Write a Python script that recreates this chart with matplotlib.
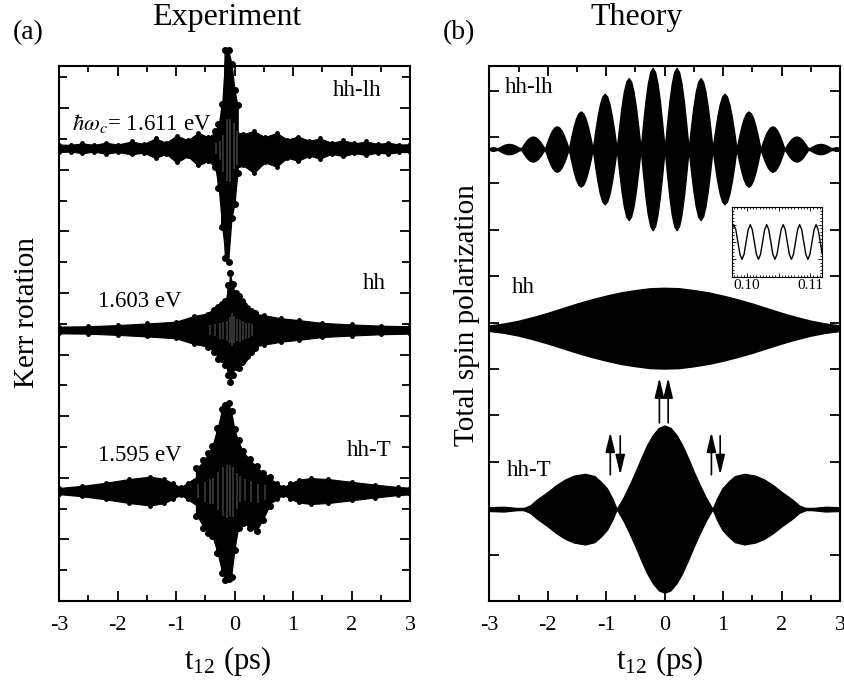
import numpy as np
import matplotlib
matplotlib.use('Agg')
import matplotlib.pyplot as plt
from matplotlib.ticker import MultipleLocator, NullFormatter

plt.rcParams['font.family'] = ['Liberation Serif', 'DejaVu Serif']
plt.rcParams['mathtext.fontset'] = 'stix'

# ---------------- experiment (left), y in tick units ----------------
exp_base = {'hh-lh': 14.7, 'hh': 8.8, 'hh-T': 3.57}

# dense band (half widths above / below baseline)
hhlh_t = [-3.0, -2.8, -2.6, -2.4, -2.2, -2.0, -1.76, -1.55, -1.35, -1.17, -0.99, -0.8, -0.62, -0.45, -0.3,
          0.0, 0.15, 0.33, 0.52, 0.72, 0.9, 1.09, 1.28, 1.46, 1.66, 1.86, 2.05, 2.25, 2.45, 2.63, 2.82, 3.0]
hhlh_up = [0.12, 0.11, 0.16, 0.11, 0.18, 0.12, 0.22, 0.14, 0.32, 0.18, 0.41, 0.26, 0.5, 0.36, 0.55,
           0.55, 0.46, 0.56, 0.36, 0.5, 0.28, 0.38, 0.24, 0.32, 0.18, 0.26, 0.16, 0.22, 0.14, 0.18, 0.12, 0.13]
hhlh_lo = [0.12, 0.11, 0.16, 0.11, 0.18, 0.12, 0.2, 0.14, 0.32, 0.18, 0.46, 0.26, 0.56, 0.41, 0.66,
           0.66, 0.56, 0.8, 0.46, 0.6, 0.31, 0.41, 0.24, 0.34, 0.18, 0.26, 0.16, 0.22, 0.14, 0.18, 0.12, 0.13]

hh_t = [-3.0, -2.5, -2.0, -1.5, -1.0, -0.7, -0.4, -0.1, 0.2, 0.5, 0.8, 1.1, 1.5, 2.0, 2.5, 3.0]
hh_hw = [0.11, 0.12, 0.16, 0.21, 0.27, 0.45, 0.56, 0.6, 0.58, 0.48, 0.38, 0.32, 0.23, 0.18, 0.14, 0.12]

hhT_t = [-3.0, -2.6, -2.2, -1.8, -1.44, -1.2, -1.05, -0.92, -0.8, -0.6, -0.3, 0.0, 0.3, 0.55, 0.72,
         0.83, 0.95, 1.1, 1.3, 1.6, 2.0, 2.4, 2.8, 3.0]
hhT_hw = [0.1, 0.17, 0.27, 0.39, 0.47, 0.39, 0.25, 0.12, 0.27, 0.52, 0.72, 0.77, 0.67, 0.47, 0.27,
          0.12, 0.25, 0.37, 0.42, 0.39, 0.3, 0.21, 0.13, 0.11]

# large excursions (dots): time, top, bottom relative to baseline
hhlh_sp_t = [-0.34, -0.28, -0.22, -0.16, -0.10, -0.04, 0.01, 0.06]
hhlh_sp_up = [0.55, 0.8, 1.45, 3.2, 3.2, 2.75, 1.9, 1.4]
hhlh_sp_lo = [0.6, 1.3, 2.55, 3.55, 3.7, 2.25, 1.8, 0.8]

hh_sp_t = [-0.45, -0.35, -0.28, -0.22, -0.16, -0.11, -0.07, -0.03, 0.02, 0.07, 0.12, 0.17, 0.22, 0.28, 0.35]
hh_sp_up = [0.5, 0.65, 0.75, 0.85, 0.95, 1.45, 1.85, 1.5, 1.2, 1.1, 0.95, 0.8, 0.7, 0.6, 0.55]
hh_sp_lo = [0.55, 0.7, 0.95, 0.95, 1.15, 1.45, 1.7, 1.45, 1.2, 1.25, 1.05, 0.95, 0.85, 0.7, 0.6]

hhT_sp_t = [-0.65, -0.53, -0.45, -0.39, -0.30, -0.22, -0.16, -0.10, -0.05, 0.01, 0.07, 0.15, 0.26, 0.38, 0.49, 0.60]
hhT_sp_up = [0.75, 1.0, 1.25, 1.45, 2.05, 2.65, 2.8, 2.85, 2.6, 2.0, 1.65, 1.3, 1.05, 0.8, 0.6, 0.45]
hhT_sp_lo = [0.8, 1.2, 1.35, 1.45, 2.0, 2.65, 2.9, 2.85, 2.8, 1.9, 1.2, 1.05, 1.2, 1.3, 0.95, 0.5]

# ---------------- theory (right), y in tick units ----------------
thy_base = {'hh-lh': 9.74, 'hh': 5.88, 'hh-T': 1.98}

# hh-lh: beat lobes between nodes
lobe_nodes = [-3.0, -2.87, -2.46, -2.05, -1.64, -1.23, -0.82, -0.41, 0.0, 0.41, 0.82, 1.23, 1.64, 2.05, 2.46, 2.87, 3.0]
lobe_peaks = [0.04, 0.11, 0.27, 0.49, 0.81, 1.19, 1.53, 1.75, 1.75, 1.53, 1.19, 0.81, 0.49, 0.27, 0.11, 0.04]
lobe_shape_f = [0, 0.1, 0.2, 0.3, 0.4, 0.5, 0.6, 0.7, 0.8, 0.9, 1.0]
lobe_shape_h = [0, 0.31, 0.59, 0.81, 0.95, 1.0, 0.95, 0.81, 0.59, 0.31, 0]

thy_hh_t = [-3.0, -2.75, -2.5, -2.25, -2.0, -1.75, -1.5, -1.25, -1.0, -0.75, -0.5, -0.25, 0.0,
            0.25, 0.5, 0.75, 1.0, 1.25, 1.5, 1.75, 2.0, 2.25, 2.5, 2.75, 3.0]
thy_hh_a = [0.06, 0.1, 0.16, 0.24, 0.33, 0.43, 0.53, 0.62, 0.7, 0.77, 0.82, 0.86, 0.87,
            0.86, 0.82, 0.77, 0.7, 0.62, 0.53, 0.43, 0.33, 0.24, 0.16, 0.1, 0.06]

thy_hhT_t = [-3.0, -2.75, -2.6, -2.45, -2.3, -2.19, -2.0, -1.85, -1.7, -1.55, -1.36, -1.2, -1.1, -0.99,
             -0.9, -0.82, -0.7, -0.6, -0.5, -0.4, -0.3, -0.2, -0.1, 0.0,
             0.1, 0.2, 0.3, 0.4, 0.5, 0.6, 0.7, 0.82, 0.9, 0.99, 1.1, 1.2, 1.36, 1.55, 1.7, 1.85,
             2.0, 2.19, 2.3, 2.45, 2.6, 2.75, 3.0]
thy_hhT_a = [0.04, 0.05, 0.03, 0.0, 0.08, 0.2, 0.37, 0.52, 0.64, 0.72, 0.76, 0.71, 0.6, 0.45,
             0.24, 0.0, 0.26, 0.52, 0.8, 1.1, 1.38, 1.6, 1.75, 1.8,
             1.75, 1.6, 1.38, 1.1, 0.8, 0.52, 0.26, 0.0, 0.24, 0.45, 0.6, 0.71, 0.76, 0.72, 0.64, 0.52,
             0.37, 0.2, 0.08, 0.0, 0.03, 0.05, 0.04]

# inset: carrier oscillation
inset_t = np.linspace(0.0976, 0.1119, 45)
inset_y = [0.71, 1, 0.71, 0, -0.71, -1, -0.71, 0, 0.71, 1, 0.71, 0, -0.71, -1, -0.71, 0,
           0.71, 1, 0.71, 0, -0.71, -1, -0.71, 0, 0.71, 1, 0.71, 0, -0.71, -1, -0.71, 0,
           0.71, 1, 0.71, 0, -0.71, -1, -0.71, 0, 0.71, 1, 0.71, 0, -0.71]

W, H = 845, 684
fig = plt.figure(figsize=(W / 100, H / 100), dpi=100)

def px_axes(x0, y0, x1, y1):
    return fig.add_axes([x0 / W, 1 - y1 / H, (x1 - x0) / W, (y1 - y0) / H])

def style(ax, ymax, ymajor, yminor):
    ax.set_xlim(-3, 3)
    ax.set_ylim(0, ymax)
    ax.xaxis.set_major_locator(MultipleLocator(1))
    ax.xaxis.set_minor_locator(MultipleLocator(0.5))
    ax.yaxis.set_major_locator(MultipleLocator(ymajor))
    if yminor:
        ax.yaxis.set_minor_locator(MultipleLocator(yminor))
    ax.yaxis.set_major_formatter(NullFormatter())
    ax.tick_params(which='both', direction='in', top=True, right=True, width=1.3)
    ax.tick_params(which='major', length=7.5, labelsize=16, pad=11)
    ax.tick_params(which='minor', length=4.5)
    ax.tick_params(axis='y', which='minor', length=5.5)
    for s in ax.spines.values():
        s.set_linewidth(1.5)
    ax.set_xticks([-3, -2, -1, 0, 1, 2, 3])
    ax.set_xticklabels(['-3', '-2', '-1', '0', '1', '2', '3'])

# ---------- left panel ----------
ax1 = px_axes(59, 66, 410, 601)
style(ax1, 17.37, 2, 1)

bands = [('hh-lh', hhlh_t, hhlh_up, hhlh_lo),
         ('hh', hh_t, hh_hw, hh_hw),
         ('hh-T', hhT_t, hhT_hw, hhT_hw)]
for key, t, up, lo in bands:
    b = exp_base[key]
    t = np.array(t)
    yu = b + np.array(up)
    yl = b - np.array(lo)
    ax1.fill_between(t, yl, yu, color='k', lw=0.8)
    ax1.plot(t, yu, 'ko', ms=2.5)
    ax1.plot(t, yl, 'ko', ms=2.5)

spikes = [('hh-lh', hhlh_sp_t, hhlh_sp_up, hhlh_sp_lo),
          ('hh', hh_sp_t, hh_sp_up, hh_sp_lo),
          ('hh-T', hhT_sp_t, hhT_sp_up, hhT_sp_lo)]
for key, t, up, lo in spikes:
    b = exp_base[key]
    yu = b + np.array(up)
    yl = b - np.array(lo)
    ax1.fill_between(t, yl, yu, color='k', lw=0, clip_on=False)
    xs = np.repeat(t, 2)
    ys = np.empty(2 * len(t))
    ys[0::2] = yu
    ys[1::2] = yl
    ax1.plot(xs, ys, 'k-o', ms=4, lw=0.9, clip_on=False)
    ax1.vlines(np.array(t[:-1]) + 0.025, b - 0.3 * np.array(lo[:-1]), b + 0.3 * np.array(up[:-1]),
               color='w', lw=0.35, alpha=0.8)

lab = dict(fontsize=16.5, va='center')
ax1.text(-2.78, 15.5, r'$\hbar\omega_c$= 1.611 eV', **lab)
ax1.text(1.68, 16.59, 'hh-lh', **lab)
ax1.text(-2.33, 9.71, '1.603 eV', **lab)
ax1.text(2.2, 10.32, 'hh', **lab)
ax1.text(-2.33, 4.74, '1.595 eV', **lab)
ax1.text(1.92, 4.9, 'hh-T', **lab)

# ---------- right panel ----------
ax2 = px_axes(489.3, 66, 840, 601)
style(ax2, 11.53, 1, None)

lt, la = [], []
for i in range(len(lobe_peaks)):
    t0, t1 = lobe_nodes[i], lobe_nodes[i + 1]
    for f, h in zip(lobe_shape_f, lobe_shape_h):
        lt.append(t0 + f * (t1 - t0))
        la.append(lobe_peaks[i] * h)
theory = [('hh-lh', lt, la), ('hh', thy_hh_t, thy_hh_a), ('hh-T', thy_hhT_t, thy_hhT_a)]
for key, t, a in theory:
    b = thy_base[key]
    a = np.array(a)
    ax2.fill_between(t, b - a, b + a, color='k', edgecolor='k', lw=1.0)
    ax2.axhline(b, color='k', lw=2.5, zorder=1)

ax2.text(-2.73, 11.06, 'hh-lh', **lab)
ax2.text(-2.61, 6.75, 'hh', **lab)
ax2.text(-2.70, 2.82, 'hh-T', **lab)

arr = dict(arrowstyle='-|>,head_length=0.75,head_width=0.18', color='k', lw=1.2, mutation_scale=16,
           shrinkA=0, shrinkB=0)
for x, y0, y1 in [(-0.93, 2.72, 3.64), (-0.76, 3.56, 2.72), (0.80, 2.72, 3.64), (0.95, 3.56, 2.72),
                  (-0.09, 3.84, 4.81), (0.06, 3.84, 4.81)]:
    ax2.annotate('', xy=(x, y1), xytext=(x, y0), arrowprops=arr)

# inset
ax3 = px_axes(731.7, 207.3, 822.3, 276.7)
ax3.plot(inset_t, inset_y, 'k-', lw=1.0)
ax3.set_xlim(0.0976, 0.1119)
ax3.set_ylim(-2, 2)
ax3.xaxis.set_minor_locator(MultipleLocator(0.0005))
ax3.yaxis.set_major_locator(MultipleLocator(1))
ax3.yaxis.set_minor_locator(MultipleLocator(0.2))
ax3.set_xticks([0.10, 0.105, 0.11])
ax3.set_xticklabels(['0.10', '', '0.11'])
ax3.yaxis.set_major_formatter(NullFormatter())
ax3.tick_params(which='both', direction='in', top=True, right=True, width=0.6)
ax3.tick_params(which='major', length=3, labelsize=11, pad=2)
ax3.tick_params(which='minor', length=1.5)
for s in ax3.spines.values():
    s.set_linewidth(0.8)

xl = r't$_{\mathregular{12}}$ (ps)'
fig.text(228 / W, 1 - 661 / H, xl, fontsize=22, ha='center', va='center')
fig.text(660 / W, 1 - 661 / H, xl, fontsize=22, ha='center', va='center')
fig.text(27 / W, 1 - 313 / H, 'Kerr rotation', fontsize=21, rotation=90, ha='center', va='center')
fig.text(467 / W, 1 - 315 / H, 'Total spin polarization', fontsize=21, rotation=90, ha='center', va='center')

fig.text(13 / W, 1 - 33 / H, '(a)', fontsize=20, va='center')
fig.text(227 / W, 1 - 18 / H, 'Experiment', fontsize=23, ha='center', va='center')
fig.text(443 / W, 1 - 33 / H, '(b)', fontsize=20, va='center')
fig.text(637 / W, 1 - 18 / H, 'Theory', fontsize=23, ha='center', va='center')

fig.savefig('out.png', dpi=100)
